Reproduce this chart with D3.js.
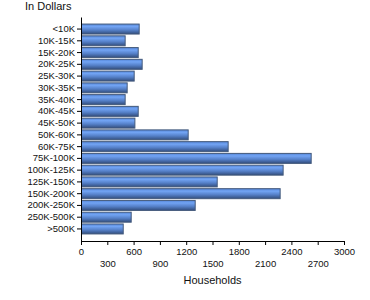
<!DOCTYPE html>
<html>
<head>
<meta charset="utf-8">
<script src="https://cdn.jsdelivr.net/npm/d3@7"></script>
<style>
	body { margin: 0; background: #fff; }
	text { font-family: "Liberation Sans", Arial, sans-serif; }
</style>
</head>
<body>
<div id="chart"></div>
<script>
const categories = ["<10K", "10K-15K", "15K-20K", "20K-25K", "25K-30K", "30K-35K", "35K-40K",
	"40K-45K", "45K-50K", "50K-60K", "60K-75K", "75K-100K", "100K-125K", "125K-150K",
	"150K-200K", "200K-250K", "250K-500K", ">500K"];
const households = [658, 498, 647, 692, 601, 521, 498, 647, 609, 1217, 1673, 2620, 2300,
	1548, 2266, 1297, 567, 476];
const xTicks = [0, 300, 600, 900, 1200, 1500, 1800, 2100, 2400, 2700, 3000];

const width = 370, height = 300;
const margin = {top: 17, right: 26, bottom: 59, left: 81};
const innerW = width - margin.left - margin.right;
const innerH = height - margin.top - margin.bottom;

const svg = d3.select("#chart").append("svg")
	.attr("width", width)
	.attr("height", height);

// gradient for the bars
const grad = svg.append("defs").append("linearGradient")
	.attr("id", "barGrad")
	.attr("x1", 0).attr("y1", 0).attr("x2", 0).attr("y2", 1);
grad.append("stop").attr("offset", "0%").attr("stop-color", "#5485d6");
grad.append("stop").attr("offset", "25%").attr("stop-color", "#72a4f4");
grad.append("stop").attr("offset", "60%").attr("stop-color", "#5580c8");
grad.append("stop").attr("offset", "100%").attr("stop-color", "#324d7c");

const g = svg.append("g")
	.attr("transform", `translate(${margin.left},${margin.top})`);

const x = d3.scaleLinear()
	.domain([0, 3000])
	.range([0, innerW]);

const y = d3.scaleBand()
	.domain(categories)
	.range([0, innerH])
	.paddingInner(0.15)
	.paddingOuter(0.6);

// Bars
g.append("g")
	.selectAll("rect")
	.data(categories)
	.join("rect")
	.attr("x", 0.5)
	.attr("y", d => y(d))
	.attr("width", (d, i) => x(households[i]))
	.attr("height", y.bandwidth())
	.attr("fill", "url(#barGrad)")
	.attr("stroke", "#445a7c")
	.attr("stroke-width", 1);

// Y axis
const yAxis = g.append("g")
	.call(d3.axisLeft(y).tickSize(4).tickSizeOuter(0).tickPadding(2));
yAxis.select(".domain").attr("stroke", "#000");
yAxis.selectAll("text").attr("font-size", "9.5px").attr("fill", "#111");

// X axis
const xAxis = g.append("g")
	.attr("transform", `translate(0,${innerH})`)
	.call(d3.axisBottom(x).tickValues(xTicks).tickFormat(d3.format("d"))
		.tickSize(4).tickSizeOuter(0).tickPadding(3));
xAxis.selectAll("text")
	.attr("font-size", "9.5px")
	.attr("fill", "#111")
	.attr("dy", (d, i) => i % 2 === 0 ? "0.71em" : "1.96em");

// Labels
svg.append("text")
	.attr("x", 25)
	.attr("y", 10)
	.attr("font-size", "11px")
	.attr("fill", "#111")
	.text("In Dollars");

svg.append("text")
	.attr("x", margin.left + innerW / 2)
	.attr("y", 284)
	.attr("text-anchor", "middle")
	.attr("font-size", "11px")
	.attr("fill", "#111")
	.text("Households");
</script>
</body>
</html>
